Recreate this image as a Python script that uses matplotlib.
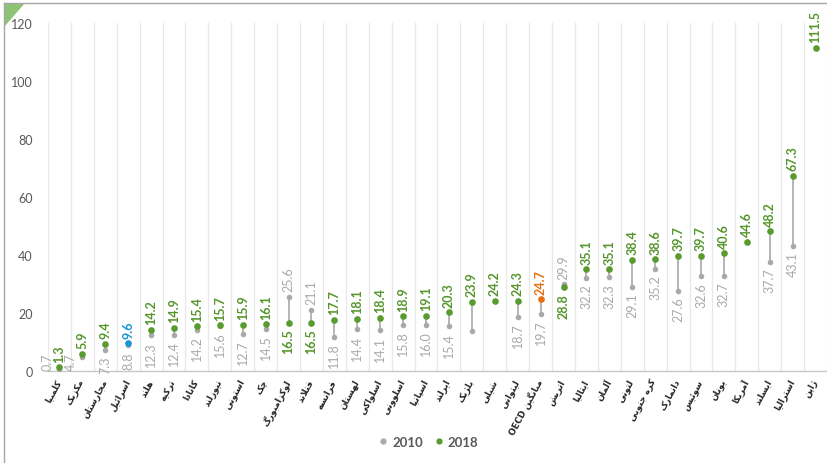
import matplotlib
matplotlib.use("Agg")
import matplotlib.pyplot as plt
from matplotlib.patches import Polygon
from matplotlib.lines import Line2D

# ---- data -------------------------------------------------------------
countries = [
    "کلمبیا", "مکزیک", "مجارستان", "اسرائیل", "هلند", "ترکیه", "کانادا",
    "نیوزلند", "استونی", "چک", "لوکزامبورگ", "فنلاند", "فرانسه", "لهستان",
    "اسلواکی", "اسلوونی", "اسپانیا", "ایرلند", "بلژیک", "شیلی", "لیتوانی",
    "میانگین OECD", "اتریش", "ایتالیا", "آلمان", "لتونی", "کره جنوبی",
    "دانمارک", "سوئیس", "یونان", "آمریکا", "ایسلند", "استرالیا", "ژاپن",
]
values_2010 = [0.7, 4.7, 7.3, 8.8, 12.3, 12.4, 14.2, 15.6, 12.7, 14.5, 25.6,
               21.1, 11.8, 14.4, 14.1, 15.8, 16.0, 15.4, 13.9, None, 18.7,
               19.7, 29.9, 32.2, 32.3, 29.1, 35.2, 27.6, 32.6, 32.7, None,
               37.7, 43.1, None]
# 2010 values shown without a data label
unlabeled_2010 = ["بلژیک"]
values_2018 = [1.3, 5.9, 9.4, 9.6, 14.2, 14.9, 15.4, 15.7, 15.9, 16.1, 16.5,
               16.5, 17.7, 18.1, 18.4, 18.9, 19.1, 20.3, 23.9, 24.2, 24.3,
               24.7, 28.8, 35.1, 35.1, 38.4, 38.6, 39.7, 39.7, 40.6, 44.6,
               48.2, 67.3, 111.5]
highlight = {"اسرائیل": "#1A96D4", "میانگین OECD": "#E8700F"}
series_names = ["2010", "2018"]
y_ticks = [0, 20, 40, 60, 80, 100, 120]

GREEN = "#5A9B2F"
GREEN_TXT = "#55952B"
GRAY = "#A9A9A9"
GRID = "#E8E8E8"
TICK = "#595959"

# ---- Persian shaping (contextual forms + right-to-left order) ---------
FORMS = {
    "ا": ("\uFE8D", "\uFE8E", None, None),
    "آ": ("\uFE81", "\uFE82", None, None),
    "ب": ("\uFE8F", "\uFE90", "\uFE91", "\uFE92"),
    "پ": ("\uFB56", "\uFB57", "\uFB58", "\uFB59"),
    "ت": ("\uFE95", "\uFE96", "\uFE97", "\uFE98"),
    "ج": ("\uFE9D", "\uFE9E", "\uFE9F", "\uFEA0"),
    "چ": ("\uFB7A", "\uFB7B", "\uFB7C", "\uFB7D"),
    "خ": ("\uFEA5", "\uFEA6", "\uFEA7", "\uFEA8"),
    "د": ("\uFEA9", "\uFEAA", None, None),
    "ر": ("\uFEAD", "\uFEAE", None, None),
    "ز": ("\uFEAF", "\uFEB0", None, None),
    "ژ": ("\uFB8A", "\uFB8B", None, None),
    "س": ("\uFEB1", "\uFEB2", "\uFEB3", "\uFEB4"),
    "ش": ("\uFEB5", "\uFEB6", "\uFEB7", "\uFEB8"),
    "ف": ("\uFED1", "\uFED2", "\uFED3", "\uFED4"),
    "ق": ("\uFED5", "\uFED6", "\uFED7", "\uFED8"),
    "ک": ("\uFB8E", "\uFB8F", "\uFB90", "\uFB91"),
    "گ": ("\uFB92", "\uFB93", "\uFB94", "\uFB95"),
    "ل": ("\uFEDD", "\uFEDE", "\uFEDF", "\uFEE0"),
    "م": ("\uFEE1", "\uFEE2", "\uFEE3", "\uFEE4"),
    "ن": ("\uFEE5", "\uFEE6", "\uFEE7", "\uFEE8"),
    "و": ("\uFEED", "\uFEEE", None, None),
    "ه": ("\uFEE9", "\uFEEA", "\uFEEB", "\uFEEC"),
    "ی": ("\uFBFC", "\uFBFD", "\uFBFE", "\uFBFF"),
    "ئ": ("\uFE89", "\uFE8A", "\uFE8B", "\uFE8C"),
}


def shape_word(word):
    chars = list(word)
    out = []
    i = 0
    n = len(chars)
    while i < n:
        c = chars[i]
        if c not in FORMS:
            out.append(c)
            i += 1
            continue
        prev = chars[i - 1] if i > 0 else None
        prev_joins = prev in FORMS and FORMS[prev][2] is not None
        if c == "ل" and i + 1 < n and chars[i + 1] == "ا":
            out.append("\uFEFC" if prev_joins else "\uFEFB")
            i += 2
            continue
        nxt = chars[i + 1] if i + 1 < n else None
        next_joins = nxt in FORMS and FORMS[c][2] is not None
        iso, fin, ini, med = FORMS[c]
        if prev_joins and next_joins:
            out.append(med)
        elif prev_joins:
            out.append(fin)
        elif next_joins:
            out.append(ini)
        else:
            out.append(iso)
        i += 1
    return "".join(reversed(out))


def rtl(text):
    tokens = text.split(" ")
    shaped = [t if t.isascii() else shape_word(t) for t in tokens]
    return " ".join(reversed(shaped))


# ---- figure -----------------------------------------------------------
plt.rcParams["font.family"] = ["Lato", "DejaVu Sans"]
fig = plt.figure(figsize=(8.27, 4.64), dpi=100)
ax = fig.add_axes([48 / 827, 1 - 372 / 464, 779 / 827, 348 / 464])

n = len(countries)
xs = list(range(n))

for k in range(n + 1):
    ax.axvline(k - 0.5, color=GRID, lw=0.9, zorder=0)

for i, (name, v10, v18) in enumerate(zip(countries, values_2010, values_2018)):
    col18 = highlight.get(name, GREEN)
    txt18 = highlight.get(name, GREEN_TXT)
    if v10 is not None:
        ax.plot([i, i], [v10, v18], color=GRAY, lw=1.2, zorder=2)
        ax.plot(i, v10, "o", color=GRAY, ms=4.0, mec="none", zorder=3)
    ax.plot(i, v18, "o", color=col18, ms=4.8, mec="none", zorder=4)

    up18 = v10 is None or v18 >= v10
    ax.annotate(f"{v18:.1f}", (i, v18), xytext=(0, 4 if up18 else -4),
                textcoords="offset points", rotation=90, ha="center",
                va="bottom" if up18 else "top", fontsize=9, fontweight="bold",
                color=txt18, zorder=5)

    if v10 is not None and name not in unlabeled_2010:
        if up18:
            if v10 < 6:
                # too close to the baseline: sit the label beside the point
                ax.annotate(f"{v10:.1f}", (i, 0), xytext=(-8.5, 1),
                            textcoords="offset points", rotation=90,
                            ha="center", va="bottom", fontsize=9,
                            color=GRAY, zorder=5)
            else:
                ax.annotate(f"{v10:.1f}", (i, v10), xytext=(0, -4),
                            textcoords="offset points", rotation=90,
                            ha="center", va="top", fontsize=9,
                            color=GRAY, zorder=5)
        else:
            ax.annotate(f"{v10:.1f}", (i, v10), xytext=(0, 4),
                        textcoords="offset points", rotation=90,
                        ha="center", va="bottom", fontsize=9,
                        color=GRAY, zorder=5)

ax.set_xlim(-0.5, n - 0.5)
ax.set_ylim(0, 120)
ax.set_yticks(y_ticks)
ax.tick_params(axis="y", length=0, pad=11, labelsize=9, labelcolor=TICK)
ax.set_xticks(xs)
ax.set_xticklabels([rtl(c) for c in countries], rotation=62, ha="right",
                   va="center", rotation_mode="anchor", fontsize=6.3,
                   fontweight="bold", color="#262626",
                   family=["DejaVu Sans"])
ax.tick_params(axis="x", length=0, pad=6)
for s in ["top", "right", "left"]:
    ax.spines[s].set_visible(False)
ax.spines["bottom"].set_color("#C8C8C8")
ax.spines["bottom"].set_linewidth(1.0)

handles = [
    Line2D([], [], marker="o", ls="none", color=GRAY, ms=4.5, mec="none"),
    Line2D([], [], marker="o", ls="none", color=GREEN, ms=4.5, mec="none"),
]
leg = fig.legend(handles, series_names, loc="center", ncol=2,
                 bbox_to_anchor=(428 / 827, 1 - 443 / 464), frameon=False,
                 handlelength=0.8, handletextpad=0.3, columnspacing=0.8,
                 prop={"weight": "bold", "size": 9.5})
for t in leg.get_texts():
    t.set_color(TICK)

# frame and corner accent
fig.add_artist(Line2D([4 / 827, 1], [1 - 4 / 464, 1 - 4 / 464],
                      transform=fig.transFigure, color="#A6A6A6", lw=1))
fig.add_artist(Line2D([4 / 827, 4 / 827], [0, 1 - 4 / 464],
                      transform=fig.transFigure, color="#A6A6A6", lw=1))
fig.add_artist(Polygon([[4 / 827, 1 - 4 / 464], [25 / 827, 1 - 4 / 464],
                        [4 / 827, 1 - 28 / 464]], closed=True,
                       transform=fig.transFigure, color="#8CC474", lw=0))

fig.savefig("out.png", dpi=100)
